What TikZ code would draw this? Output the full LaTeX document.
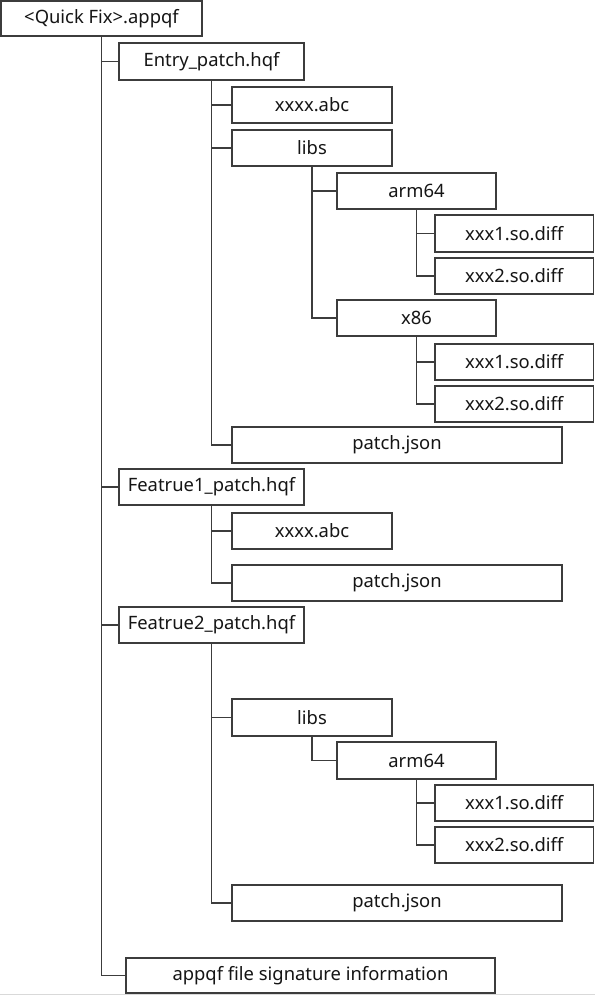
\documentclass[tikz,border=0pt]{standalone}
\usepackage{fontspec}
\setmainfont{Noto Sans}
\definecolor{edge}{HTML}{3C3C3C}
\definecolor{txt}{HTML}{151515}
\tikzset{
  box/.style={draw=edge, line width=1.3pt, fill=white, inner sep=0pt, outer sep=0pt,
    text=txt, font=\fontsize{18.4}{20}\selectfont},
  conn/.style={draw=edge, line width=1.3pt}
}
\newcommand\fbx[6]{\node[box, minimum width={(#4-#2)*1pt}, minimum height={(#5-#3)*1pt}] (#1) at ({(#2+#4)/2},{-(#3+#5)/2}) {#6};}
\begin{document}
\begin{tikzpicture}[x=1pt,y=1pt]
\useasboundingbox (0,0) rectangle (595,-1000);
\draw[gray!30, line width=1pt] (0,-994.5) -- (595,-994.5);
\fbx{root}{1}{1}{202}{36}{<Quick Fix>.appqf}
\fbx{entry}{119}{43}{304}{80}{Entry\_patch.hqf}
\fbx{eabc}{232}{87}{392}{123}{xxxx.abc}
\fbx{elibs}{232}{130}{392}{166}{libs}
\fbx{earm}{337}{173}{496}{209}{arm64}
\fbx{earmA}{435}{215}{593.5}{252}{xxx1.so.diff}
\fbx{earmB}{435}{258}{593.5}{294}{xxx2.so.diff}
\fbx{exs}{337}{300}{496}{336}{x86}
\fbx{exsA}{435}{344}{593.5}{380}{xxx1.so.diff}
\fbx{exsB}{435}{386}{593.5}{422}{xxx2.so.diff}
\fbx{ejson}{232}{427}{562}{463}{patch.json}
\fbx{fa}{119}{469}{304}{505}{Featrue1\_patch.hqf}
\fbx{faabc}{232}{513}{392}{549}{xxxx.abc}
\fbx{fajson}{232}{565}{562}{601}{patch.json}
\fbx{fb}{119}{607}{304}{643}{Featrue2\_patch.hqf}
\fbx{fblibs}{232}{699}{392}{736}{libs}
\fbx{fbarm}{337}{742}{496}{779}{arm64}
\fbx{fbarmA}{435}{785}{593.5}{821}{xxx1.so.diff}
\fbx{fbarmB}{435}{827}{593.5}{863}{xxx2.so.diff}
\fbx{fbjson}{232}{885}{562}{921}{patch.json}
\fbx{sig}{126}{958}{495}{993}{appqf file signature information}
% connectors
\draw[conn] (root.south) |- (entry.west);
\draw[conn] (root.south) |- (fa.west);
\draw[conn] (root.south) |- (fb.west);
\draw[conn] (root.south) |- (sig.west);
\draw[conn] (entry.south) |- (eabc.west);
\draw[conn] (entry.south) |- (elibs.west);
\draw[conn] (entry.south) |- (ejson.west);
\draw[conn] (elibs.south) |- (earm.west);
\draw[conn] (elibs.south) |- (exs.west);
\draw[conn] (earm.south) |- (earmA.west);
\draw[conn] (earm.south) |- (earmB.west);
\draw[conn] (exs.south) |- (exsA.west);
\draw[conn] (exs.south) |- (exsB.west);
\draw[conn] (fa.south) |- (faabc.west);
\draw[conn] (fa.south) |- (fajson.west);
\draw[conn] (fb.south) |- (fblibs.west);
\draw[conn] (fb.south) |- (fbjson.west);
\draw[conn] (fblibs.south) |- (fbarm.west);
\draw[conn] (fbarm.south) |- (fbarmA.west);
\draw[conn] (fbarm.south) |- (fbarmB.west);
\end{tikzpicture}
\end{document}
